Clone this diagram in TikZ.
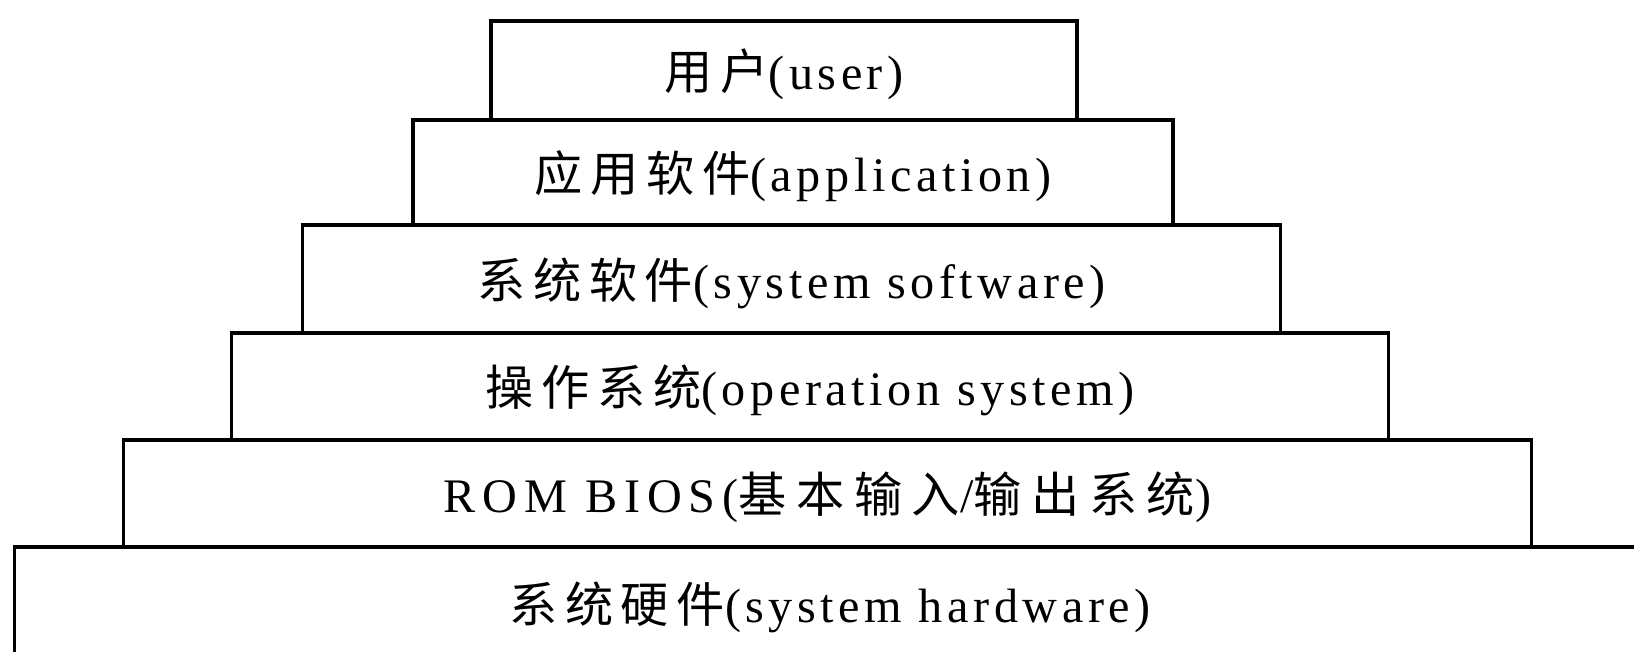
\documentclass[tikz,border=0pt]{standalone}
\usepackage{fontspec}
\setmainfont[LetterSpace=9.5]{Liberation Serif}
\newfontfamily\cjk[LetterSpace=16]{Noto Sans CJK SC}
\newfontfamily\cjkwide[LetterSpace=20]{Noto Sans CJK SC}
\usepackage{tikz}
\usetikzlibrary{positioning}
\tikzset{layer/.style={draw,line width=1pt,rectangle,inner sep=0pt,
  text height=1.1em,text depth=0pt,font=\fontsize{13.7}{16}\selectfont}}

\begin{document}
\begin{tikzpicture}[x=0.01cm,y=0.01cm]
  \useasboundingbox (0,0) rectangle (1634,651);
  \clip (0,0) rectangle (1634,651);
  \node[layer,minimum width=5.86cm,minimum height=0.99cm] (user) at (784,580.5) {{\cjk 用户}(user)};
  \node[layer,minimum width=7.60cm,minimum height=1.05cm] (app) at (793,478.5) {{\cjk 应用软件}(application)};
  \node[layer,minimum width=9.77cm,minimum height=1.08cm] (syssw) at (791.5,372) {{\cjk 系统软件}(system software)};
  \node[layer,minimum width=11.56cm,minimum height=1.07cm] (os) at (810,264.5) {{\cjk 操作系统}(operation system)};
  \node[layer,minimum width=14.07cm,minimum height=1.07cm] (bios) at (827.5,157.5) {\addfontfeature{LetterSpace=14}ROM BIOS({\cjkwide 基本输入}/{\cjkwide 输出系统})};
  \node[layer,minimum width=16.30cm,minimum height=1.13cm] (hw) at (830,47.5) {{\cjk 系统硬件}(system hardware)};
\end{tikzpicture}
\end{document}
